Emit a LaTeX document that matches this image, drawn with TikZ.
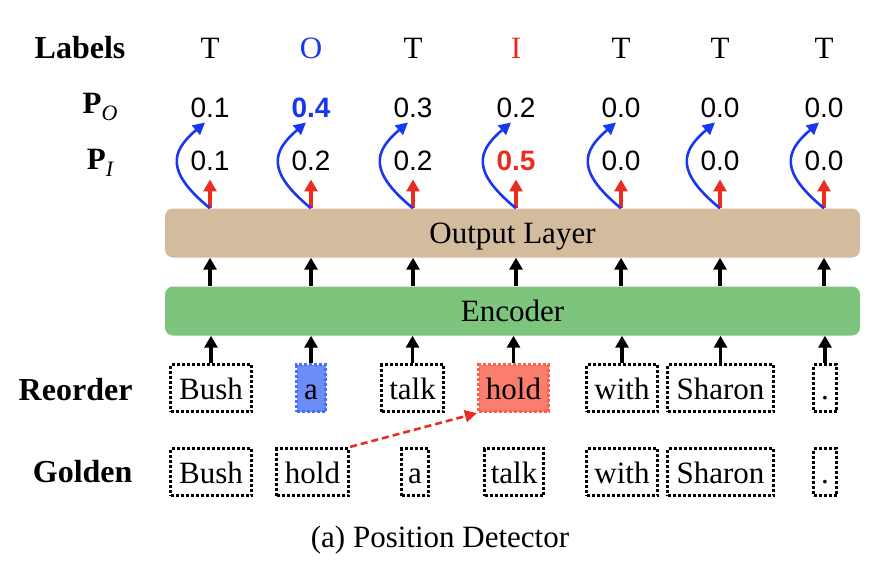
\documentclass[tikz,border=0pt]{standalone}
\usepackage{fontspec}
\setmainfont{Liberation Serif}
\newfontfamily\numfont{Liberation Sans}
\usetikzlibrary{arrows.meta}
\definecolor{outcol}{RGB}{211,187,158}
\definecolor{enccol}{RGB}{125,196,125}
\definecolor{myblue}{RGB}{25,55,240}
\definecolor{myred}{RGB}{235,45,30}
\definecolor{ablue}{RGB}{110,140,245}
\definecolor{abluedraw}{RGB}{75,110,250}
\definecolor{hred}{RGB}{250,125,110}
\definecolor{hreddraw}{RGB}{250,95,80}
\newcommand\bigfont{\fontsize{31}{33}\selectfont}
\newcommand\boldfont{\fontsize{32}{34}\selectfont\bfseries}
\newcommand\numsize{\fontsize{28}{30}\selectfont\numfont}
\tikzset{
  layer/.style = {rounded corners = 8pt, minimum width = 695pt, minimum height = 49pt, text height = 21pt, text depth = 0pt, font = \bigfont},
  word/.style = {draw, line width = 3.2pt, dash pattern = on 3pt off 2pt, minimum height = 47pt, text height = 23pt, text depth = 0pt, inner sep = 0pt, font = \bigfont},
  plainword/.style = {},
  moved/.style = {draw = abluedraw, fill = ablue},
  target/.style = {draw = hreddraw, fill = hred},
  num/.style = {anchor = base, inner sep = 5pt, font = \numsize},
  rowlabel/.style = {anchor = base east, font = \boldfont},
  blkarrow/.style = {line width = 3.5pt, -{Triangle[width = 13pt, length = 12pt]}},
  redarrow/.style = {draw = myred, line width = 3.2pt, -{Triangle[width = 13pt, length = 12pt]}},
  bluearrow/.style = {draw = myblue, line width = 2.6pt, -{Triangle[width = 12pt, length = 12pt]}}
}
\begin{document}
\begin{tikzpicture}[x = 1pt, y = -1pt]
\useasboundingbox (0,0) rectangle (890,562);
\node[anchor = base, font = \boldfont] (labels) at (80,58) {Labels};
\node[anchor = base, font = \bigfont] (pO) at (100,113) {\textbf{P}\raisebox{-0.25em}{\fontsize{22}{23}\selectfont\itshape O}};
\node[anchor = base, font = \bigfont] (pI) at (100,169) {\textbf{P}\raisebox{-0.25em}{\fontsize{22}{23}\selectfont\itshape I}};
\node[rowlabel] (reorder) at (136,400) {Reorder};
\node[rowlabel] (golden) at (136,482) {Golden};
\node[layer, fill = outcol] (out) at (512.5,233) {Output Layer};
\node[layer, fill = enccol] (enc) at (512.5,311) {Encoder};
\foreach \x/\lab/\po/\pi [count = \n] in {210/T/0.1/0.1, 311/{\color{myblue}O}/{\color{myblue}\bfseries 0.4}/0.2, 413/T/0.3/0.2, 516/{\color{myred}I}/0.2/{\color{myred}\bfseries 0.5}, 621/T/0.0/0.0, 720/T/0.0/0.0, 824/T/0.0/0.0} {
  \node[anchor = base, font = \bigfont] (l\n) at (\x,58) {\lab};
  \node[num] (po\n) at (\x,117) {\po};
  \node[num] (pi\n) at (\x,170) {\pi};
  \draw[blkarrow] (enc.north -| po\n) -- (out.south -| po\n);
  \draw[redarrow, shorten > = 4pt] (out.north -| pi\n) -- (pi\n.south);
  \draw[bluearrow] (out.north -| po\n) .. controls +(-45,-37) and +(-34,29) .. ([xshift = -5pt]po\n.south);
}
\foreach \w/\x/\bw/\st [count = \n] in {Bush/211/81/plainword, a/311/29/moved, talk/412.5/62/plainword, hold/513.5/70/target, with/622/71/plainword, Sharon/720.5/106/plainword, ./825/23/plainword} {
  \node[word, \st, minimum width = \bw pt] (r\n) at (\x,388) {\w};
  \draw[blkarrow] (r\n.north) -- (r\n.north |- enc.south);
}
\foreach \w/\x/\bw [count = \n] in {Bush/211/81, hold/312.5/72, a/415/27, talk/514/59, with/622/71, Sharon/720.5/106, ./825/23}
  \node[word, minimum width = \bw pt] (g\n) at (\x,472) {\w};
\draw[draw = myred, line width = 2.6pt, dash pattern = on 7pt off 4pt, -{Triangle[width = 12pt, length = 12pt]}] (g2.north east) -- (r4.south west);
\node[anchor = base, font = \bigfont] (caption) at (440,547) {(a) Position Detector};
\end{tikzpicture}
\end{document}
